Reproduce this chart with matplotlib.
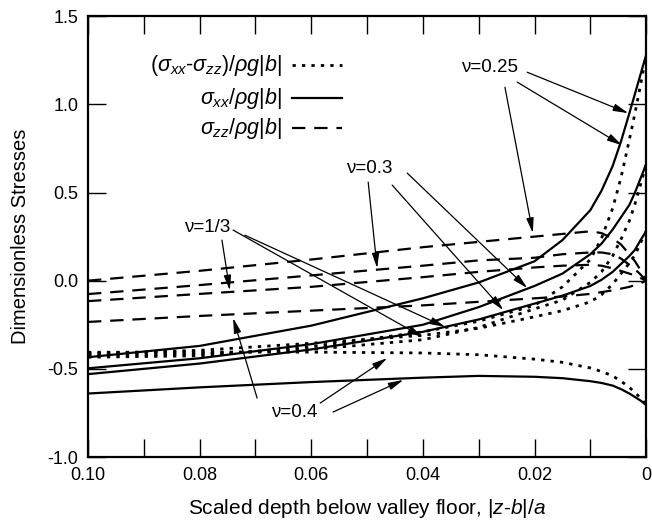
import matplotlib
matplotlib.use('Agg')
import matplotlib.pyplot as plt

plt.rcParams['font.family'] = ['Liberation Sans', 'DejaVu Sans']
plt.rcParams['mathtext.fontset'] = 'custom'
plt.rcParams['mathtext.rm'] = 'Liberation Sans'
plt.rcParams['mathtext.it'] = 'Liberation Sans:italic'

# scaled depth |z-b|/a (axis runs from 0.10 down to 0)
depth = [0.10, 0.08, 0.06, 0.04, 0.03, 0.02, 0.015, 0.01, 0.008, 0.006, 0.0045, 0.003, 0.002, 0.001, 0.0]

# sigma_xx / rho g |b|
sxx_025 = [-0.434, -0.37, -0.255, -0.10, -0.01, 0.11, 0.23, 0.40, 0.51, 0.65, 0.79, 0.95, 1.06, 1.17, 1.28]
sxx_030 = [-0.497, -0.44, -0.36, -0.25, -0.15, -0.03, 0.04, 0.15, 0.21, 0.29, 0.36, 0.43, 0.50, 0.58, 0.66]
sxx_033 = [-0.53, -0.47, -0.39, -0.29, -0.22, -0.13, -0.085, -0.03, 0.005, 0.05, 0.095, 0.14, 0.175, 0.23, 0.28]
sxx_040 = [-0.64, -0.605, -0.575, -0.55, -0.54, -0.545, -0.553, -0.57, -0.58, -0.595, -0.615, -0.64, -0.66, -0.68, -0.705]

# sigma_zz / rho g |b|
szz_025 = [0.0, 0.056, 0.12, 0.19, 0.22, 0.25, 0.265, 0.28, 0.27, 0.24, 0.205, 0.15, 0.11, 0.06, 0.0]
szz_030 = [-0.076, -0.025, 0.03, 0.085, 0.115, 0.13, 0.15, 0.16, 0.16, 0.15, 0.125, 0.09, 0.065, 0.035, 0.0]
szz_033 = [-0.116, -0.075, -0.035, 0.02, 0.05, 0.075, 0.085, 0.09, 0.085, 0.07, 0.055, 0.04, 0.03, 0.015, 0.0]
szz_040 = [-0.234, -0.20, -0.17, -0.14, -0.12, -0.10, -0.09, -0.075, -0.065, -0.055, -0.045, -0.035, -0.025, -0.015, 0.0]

# (sigma_xx - sigma_zz) / rho g |b|
dif_025 = [-0.434, -0.426, -0.375, -0.29, -0.23, -0.14, -0.035, 0.12, 0.24, 0.41, 0.585, 0.80, 0.95, 1.11, 1.28]
dif_030 = [-0.421, -0.415, -0.39, -0.335, -0.265, -0.16, -0.11, -0.01, 0.05, 0.14, 0.235, 0.34, 0.435, 0.545, 0.66]
dif_033 = [-0.414, -0.395, -0.355, -0.31, -0.27, -0.205, -0.17, -0.12, -0.08, -0.02, 0.04, 0.10, 0.145, 0.215, 0.28]
dif_040 = [-0.406, -0.405, -0.405, -0.41, -0.42, -0.445, -0.463, -0.495, -0.515, -0.54, -0.57, -0.605, -0.635, -0.665, -0.705]

xticks = [0.10, 0.08, 0.06, 0.04, 0.02, 0.0]
xticklabels = ['0.10', '0.08', '0.06', '0.04', '0.02', '0']
yticks = [-1.0, -0.5, 0.0, 0.5, 1.0, 1.5]

fig = plt.figure(figsize=(6.52, 5.22), dpi=100)
ax = fig.add_axes([0.135, 0.1245, 0.856, 0.8445])

solid = dict(color='black', lw=1.6, ls='-')
dashed = dict(color='black', lw=1.6, ls=(0, (6, 4)))
dotted = dict(color='black', lw=2.0, ls=(0, (1.2, 2.2)))

for s in [sxx_025, sxx_030, sxx_033, sxx_040]:
    ax.plot(depth, s, **solid)
for s in [szz_025, szz_030, szz_033, szz_040]:
    ax.plot(depth, s, **dashed)
for s in [dif_025, dif_030, dif_033, dif_040]:
    ax.plot(depth, s, **dotted)

ax.set_xlim(0.10, 0.0)
ax.set_ylim(-1.0, 1.5)
ax.set_xticks(xticks)
ax.set_xticklabels(xticklabels)
ax.set_xticks([0.09, 0.07, 0.05, 0.03, 0.01], minor=True)
ax.set_yticks(yticks)
ax.set_yticklabels(['%.1f' % v for v in yticks])
ax.tick_params(which='both', direction='in', length=13, width=1.0,
               top=True, right=True, labelsize=13, pad=7)
for sp in ax.spines.values():
    sp.set_linewidth(1.6)

ax.set_xlabel('Scaled depth below valley floor, |$z$-$b$|/$a$', fontsize=15)
ax.set_ylabel('Dimensionless Stresses', fontsize=14.5)
ax.xaxis.set_label_coords(0.5, -0.09)
ax.yaxis.set_label_coords(-0.104, 0.5)

# legend drawn by hand: text right aligned, line sample after it
leg = [(r'($\sigma_{xx}$-$\sigma_{zz}$)/$\rho g$|$b$|', dotted, 0.889),
       (r'$\sigma_{xx}$/$\rho g$|$b$|', solid, 0.814),
       (r'$\sigma_{zz}$/$\rho g$|$b$|', dashed, 0.746)]
for label, style, yy in leg:
    ax.text(0.348, yy, label, transform=ax.transAxes, ha='right', va='center', fontsize=15.5)
    ax.plot([0.366, 0.455], [yy, yy], transform=ax.transAxes, **style)

arrow = dict(arrowstyle='-|>,head_length=0.9,head_width=0.22', color='black',
             lw=0.9, shrinkA=0, shrinkB=0)

labels = [
    ('ν=0.25', (0.0280, 1.211),
     [((0.0253, 1.097), (0.0203, 0.270)),
      ((0.0231, 1.126), (0.0043, 0.768)),
      ((0.0213, 1.182), (0.0032, 0.950))]),
    ('ν=0.3', (0.0496, 0.638),
     [((0.0498, 0.559), (0.0482, 0.071)),
      ((0.0455, 0.542), (0.0256, -0.167)),
      ((0.0428, 0.610), (0.0213, -0.042))]),
    ('ν=1/3', (0.0787, 0.304),
     [((0.0760, 0.230), (0.0746, -0.055)),
      ((0.0740, 0.287), (0.0400, -0.320)),
      ((0.0719, 0.258), (0.0360, -0.263))]),
    ('ν=0.4', (0.0631, -0.745),
     [((0.0697, -0.666), (0.0740, -0.212)),
      ((0.0584, -0.694), (0.0464, -0.439)),
      ((0.0561, -0.745), (0.0435, -0.563))]),
]
for txt, pos, arrows in labels:
    ax.text(pos[0], pos[1], txt, ha='center', va='center', fontsize=13.5)
    for start, tip in arrows:
        ax.annotate('', xy=tip, xytext=start, arrowprops=arrow)

fig.savefig('out.png', dpi=100)
